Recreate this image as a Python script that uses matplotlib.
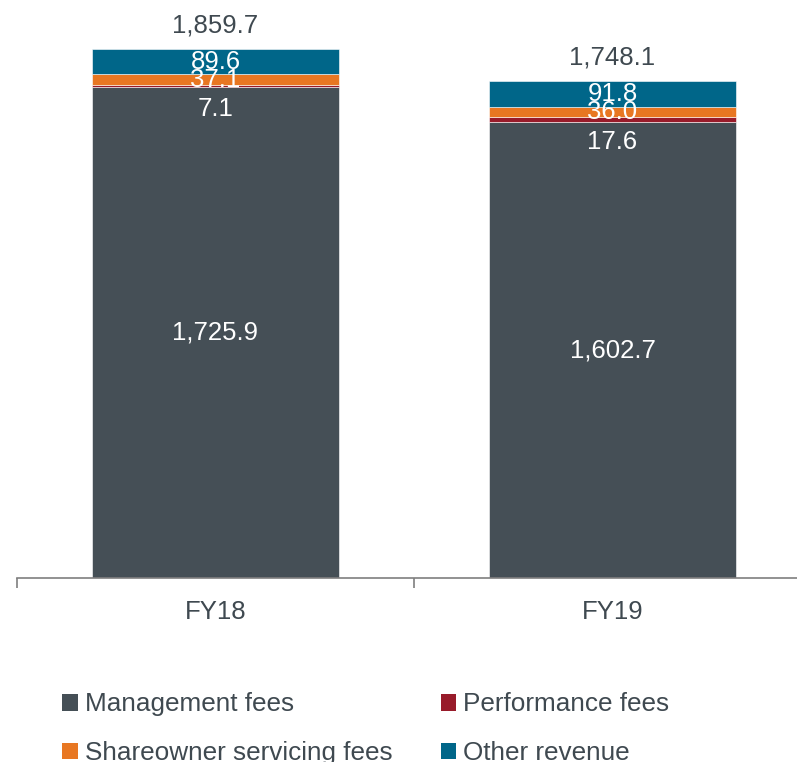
import numpy as np
import matplotlib.pyplot as plt
from matplotlib.patches import Patch

plt.rcParams['font.family'] = ['Liberation Sans', 'DejaVu Sans']

# data
years = ["FY18", "FY19"]
management = [1725.9, 1602.7]
performance = [7.1, 17.6]
shareowner = [37.1, 36.0]
other = [89.6, 91.8]
totals = [1859.7, 1748.1]

series_names = ["Management fees", "Performance fees",
                "Shareowner servicing fees", "Other revenue"]
colors = ["#454F56", "#981B2A", "#E87722", "#006689"]
text_col = "#3F4950"

fig = plt.figure(figsize=(7.97, 7.62), dpi=100)
# axes: x from 17px to 811px (cut by figure edge), y bottom at 578px
ax = fig.add_axes([17/797, (762-578)/762, 794/797, 569/762])

x = np.arange(len(years))
w = 0.62
bottom = np.zeros(len(years))
stack = [management, performance, shareowner, other]
for vals, c in zip(stack, colors):
    ax.bar(x, vals, w, bottom=bottom, color=c, edgecolor='white', linewidth=0.4)
    bottom += np.array(vals)

# segment labels
for i in range(len(years)):
    m, p, s, o = management[i], performance[i], shareowner[i], other[i]
    ax.text(x[i], m/2, f"{m:,.1f}", ha='center', va='center', color='white', fontsize=18.5)
    ax.annotate(f"{p:,.1f}", (x[i], m + p/2), xytext=(0, -16.5), textcoords='offset points',
                ha='center', va='center', color='white', fontsize=18.5)
    ax.text(x[i], m + p + s/2, f"{s:,.1f}", ha='center', va='center', color='white', fontsize=18.5)
    ax.text(x[i], m + p + s + o/2, f"{o:,.1f}", ha='center', va='center', color='white', fontsize=18.5)
    ax.annotate(f"{totals[i]:,.1f}", (x[i], totals[i]), xytext=(0, 17), textcoords='offset points',
                ha='center', va='center', color=text_col, fontsize=18.5)

ax.set_xlim(-0.5, 1.5)
ax.set_ylim(0, 2000)
ax.set_yticks([])
for sp in ['top', 'right', 'left']:
    ax.spines[sp].set_visible(False)
ax.spines['bottom'].set_color('#7F7F7F')
ax.spines['bottom'].set_linewidth(1.2)
ax.set_xticks(x)
ax.set_xticklabels(years, fontsize=18.5, color=text_col)
ax.tick_params(axis='x', which='major', length=0, pad=16)
ax.set_xticks([-0.5, 0.5, 1.5], minor=True)
ax.tick_params(axis='x', which='minor', length=7, color='#7F7F7F', width=1.2)

# legend, column-wise ordering to get rows: Mgmt/Perf, Share/Other
order = [0, 2, 1, 3]
handles = [Patch(facecolor=colors[k], edgecolor='none') for k in order]
labels = [series_names[k] for k in order]
fig.legend(handles, labels, loc='upper left', bbox_to_anchor=(52/797, 1 - 682/762),
           ncol=2, frameon=False, fontsize=18.8, labelcolor=text_col,
           handlelength=0.6, handleheight=0.6, handletextpad=0.25,
           columnspacing=1.85, labelspacing=0.95, borderaxespad=0)

fig.savefig("out.png", dpi=100)
